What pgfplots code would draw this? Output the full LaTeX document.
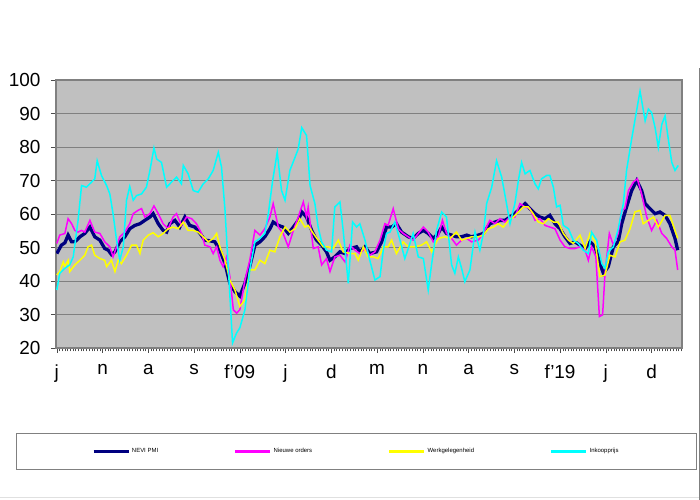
\documentclass[border=0pt]{standalone}
\usepackage{fontspec}
\setmainfont{Liberation Sans}
\usepackage{pgfplots}
\pgfplotsset{compat=1.18}
\definecolor{plotbg}{HTML}{C0C0C0}
\definecolor{gridgray}{HTML}{808080}
\definecolor{nevi}{HTML}{000080}
\definecolor{orders}{HTML}{FF00FF}
\definecolor{werk}{HTML}{FFFF00}
\definecolor{inkoop}{HTML}{00FFFF}
\begin{document}
\begin{tikzpicture}
\useasboundingbox (0,0) rectangle (700bp,500bp);
\draw[gridgray, line width=1bp] (699bp,0) -- (699bp,432bp);
\draw[black!12, line width=1bp] (0,2bp) -- (699bp,2bp);
\begin{axis}[
  at={(56bp,152bp)}, anchor=south west,
  scale only axis, width=626bp, height=268bp,
  xmin=-0.3, xmax=232.3, ymin=20, ymax=100,
  axis background/.style={fill=plotbg},
  axis line style={gridgray, line width=1.5bp},
  ytick={20,30,...,100},
  ymajorgrids, grid style={gridgray, line width=1bp},
  xtick={0,17,...,221},
  xticklabels={j,n,a,s,f'09,j,d,m,n,a,s,f'19,j,d},
  minor xtick={0,1,...,232},
  tick align=outside, tick pos=left,
  major tick length=5bp, minor tick length=3.5bp,
  every tick/.style={black!70, line width=0.5bp},
  tick label style={font=\fontsize{19}{21}\selectfont},
  yticklabel style={xshift=-7bp},
  xticklabel style={yshift=-8bp},
  /pgf/number format/assume math mode=true,
  legend style={at={(axis description cs:0.48,-0.386)}, anchor=center,
    draw=gridgray, fill=white, line width=0.8bp,
    inner xsep=76bp, inner ysep=13bp,
    font=\fontsize{6}{7}\selectfont,
    /tikz/every even column/.append style={column sep=74bp}},
  legend columns=4, legend cell align=left,
  legend image code/.code={\draw[#1, line width=2.5bp] (0bp,0bp) -- (35bp,0bp);},
]
\addplot[nevi, line width=3.3bp] coordinates {
(0,48.2) (1.7,50.7) (3.0,51.4) (4.2,53.7) (5.5,51.7) (6.7,51.7) (8.6,53.2) (10.4,54.2) (12.3,56.1) (14.1,53.2)
(16.0,52.2) (17.8,49.7) (19.1,49.2) (20.3,47.9) (21.6,48.7) (23.4,51.7) (25.3,53.2) (27.1,55.6) (29.0,56.6) (30.9,57.1)
(32.7,58.1) (34.6,59.1) (35.8,60.1) (37.7,57.1) (39.5,55.1) (40.8,54.6) (42.0,57.1) (43.9,58.1) (45.7,56.1) (47.6,59.1)
(49.4,56.6) (51.3,56.1) (53.2,54.2) (55.0,52.2) (56.9,52.0) (58.7,51.7) (60.6,49.2) (62.5,45.2) (64.3,39.3) (66.2,36.8)
(68.0,35.5) (69.9,39.3) (71.7,44.3) (73.6,50.7) (75.5,51.7) (77.3,53.2) (79.2,55.6) (80.4,57.6) (82.3,56.6) (84.1,56.1)
(86.0,54.2) (87.9,56.1) (89.7,58.1) (91.0,60.6) (92.8,59.1) (94.7,55.1) (96.5,52.2) (98.4,50.7) (100.2,48.7) (101.5,46.2)
(103.3,47.2) (105.2,48.7) (107.1,48.2) (108.9,49.7) (111.4,50.2) (112.6,48.7) (114.5,50.2) (116.3,48.2) (118.8,48.7) (120.7,51.7)
(122.5,56.1) (124.4,56.1) (126.2,57.1) (128.1,54.6) (130.6,53.2) (132.4,52.7) (134.3,54.2) (136.2,55.1) (138.0,54.2) (139.9,52.7)
(141.7,54.2) (143.0,56.1) (144.8,54.2) (146.7,53.7) (148.5,53.2) (150.4,53.2) (152.3,53.7) (154.1,53.2) (156.6,53.7) (158.5,54.2)
(160.9,57.1) (162.8,57.6) (164.7,58.1) (166.5,58.1) (168.4,59.1) (170.2,60.1) (172.1,61.6) (174.0,63.1) (175.8,61.6) (177.7,60.1)
(179.5,59.1) (181.4,58.6) (183.2,59.6) (185.1,57.1) (187.0,55.6) (188.8,53.2) (190.7,51.2) (192.5,51.7) (194.4,50.7) (196.3,49.7)
(198.1,51.7) (200.0,50.2) (201.8,45.2) (203.1,42.3) (204.9,44.3) (206.8,50.2) (208.6,51.7) (209.9,57.1) (211.7,62.1) (213.6,67.0)
(215.5,70.0) (217.3,67.0) (218.6,63.1) (220.4,61.6) (222.3,60.1) (224.1,60.6) (226.0,59.6) (227.8,57.1) (229.7,52.7) (230.7,49.2)
};
\addlegendentry{NEVI PMI}
\addplot[orders, line width=1.5bp] coordinates {
(0,51.2) (1.1,53.7) (3.0,54.2) (4.2,58.6) (5.5,57.1) (6.7,55.1) (7.9,54.6) (9.2,55.1) (10.4,54.6) (12.3,58.1)
(14.1,54.6) (16.0,54.2) (17.8,51.7) (19.7,50.2) (20.9,47.2) (22.2,50.2) (23.4,53.2) (25.3,54.6) (27.1,57.1) (28.4,60.1)
(30.2,61.1) (31.5,61.6) (32.7,59.1) (34.6,60.1) (36.1,62.4) (37.7,60.1) (39.5,57.1) (41.4,55.6) (43.2,59.1) (44.5,60.1)
(46.3,56.6) (48.2,59.1) (50.1,58.6) (51.9,57.1) (53.8,54.2) (55.0,50.7) (56.9,50.2) (58.1,48.2) (59.4,50.2) (60.6,46.2)
(61.8,44.3) (63.1,47.2) (64.3,41.3) (65.6,31.4) (66.8,30.4) (68.0,31.4) (69.9,40.3) (71.7,46.2) (73.6,55.1) (75.5,53.7)
(77.3,55.6) (79.2,59.1) (80.4,63.1) (82.3,56.1) (84.1,54.2) (86.0,50.2) (87.9,55.1) (89.7,59.1) (91.6,63.6) (92.8,59.1)
(93.4,62.1) (95.3,49.7) (97.1,50.2) (98.4,44.8) (100.2,46.7) (101.5,42.8) (103.3,47.2) (105.2,47.7) (107.1,45.7) (108.9,50.7)
(110.8,49.2) (112.6,48.2) (114.5,49.7) (116.3,47.7) (118.2,48.7) (120.1,52.2) (121.9,57.1) (123.1,56.6) (125.0,61.6) (126.9,55.6)
(128.7,54.2) (130.6,53.2) (132.4,52.2) (134.3,54.2) (136.2,56.1) (138.0,54.6) (139.9,51.7) (141.7,53.2) (143.3,58.1) (144.8,54.2)
(146.7,52.7) (148.5,50.7) (150.4,52.2) (152.3,52.7) (154.1,51.7) (156.6,52.2) (158.5,54.2) (160.9,58.1) (162.8,57.1) (164.7,58.6)
(166.5,57.6) (168.4,59.1) (170.2,59.1) (172.1,63.1) (174.0,62.1) (175.8,61.6) (177.7,58.1) (179.5,58.6) (181.4,56.6) (183.2,56.1)
(185.1,55.6) (187.0,52.2) (188.8,50.2) (190.7,49.7) (192.5,49.7) (194.4,50.2) (196.3,49.2) (197.5,46.2) (198.7,50.2) (200.3,47.2)
(201.6,29.4) (202.8,29.9) (203.7,42.3) (205.3,54.2) (206.8,50.7) (208.6,54.2) (209.9,61.1) (211.1,61.6) (212.4,67.0) (214.2,69.5)
(215.7,70.5) (217.3,66.0) (219.2,59.1) (221.0,55.1) (222.9,58.1) (224.8,54.2) (226.6,52.7) (228.5,50.2) (229.7,49.2) (230.7,43.3)
};
\addlegendentry{Nieuwe orders}
\addplot[werk, line width=1.5bp] coordinates {
(0,41.8) (1.1,42.8) (2.4,45.7) (3.0,44.3) (4.2,46.2) (4.8,42.8) (6.7,44.8) (8.6,46.2) (10.4,47.7) (11.6,50.2)
(12.9,50.7) (14.1,47.7) (16.0,46.7) (17.8,46.2) (18.5,44.3) (20.3,46.2) (21.6,42.8) (22.8,46.2) (24.0,45.2) (25.9,47.7)
(27.8,50.7) (29.6,50.7) (30.9,48.2) (32.1,52.2) (34.0,53.7) (35.8,54.4) (37.7,53.2) (39.5,54.2) (41.4,55.6) (43.2,56.1)
(45.1,55.6) (47.0,57.6) (48.8,55.1) (50.7,55.1) (52.5,54.6) (54.4,53.2) (56.3,51.7) (58.1,52.7) (59.4,54.2) (60.6,50.2)
(62.5,46.2) (64.3,40.3) (66.2,37.3) (68.0,32.4) (69.9,34.4) (71.7,43.3) (73.6,43.3) (75.5,46.2) (77.3,45.2) (79.2,49.2)
(81.0,48.7) (82.9,53.2) (84.8,56.1) (86.6,54.6) (88.5,55.6) (90.3,58.6) (92.2,56.1) (93.4,56.6) (95.3,54.2) (97.1,52.2)
(99.0,50.2) (100.9,50.2) (102.7,49.7) (104.6,52.2) (106.4,48.7) (108.9,48.2) (110.8,48.2) (112.0,46.2) (113.9,50.2) (115.7,47.2)
(117.6,47.2) (119.4,46.7) (121.3,50.2) (123.1,50.2) (124.4,52.2) (126.2,48.2) (128.7,51.7) (130.6,50.2) (133.1,50.2) (135.5,50.7)
(137.4,51.7) (139.3,48.7) (141.7,52.7) (144.2,53.2) (146.1,52.7) (148.5,54.6) (150.4,52.2) (152.3,52.7) (154.1,53.2) (156.6,53.2)
(158.5,53.7) (160.3,55.6) (162.2,56.1) (164.0,57.1) (165.9,56.1) (167.8,58.1) (169.6,59.1) (171.5,60.6) (173.3,62.1) (175.2,62.1)
(177.0,60.1) (178.9,57.6) (180.8,57.1) (182.6,58.6) (184.5,57.6) (186.3,57.6) (188.2,54.2) (190.1,52.2) (191.9,51.2) (194.4,53.7)
(196.3,49.7) (198.1,54.2) (200.0,51.7) (201.8,41.3) (203.7,41.8) (205.5,47.7) (207.4,47.2) (209.3,51.7) (211.1,52.2) (213.0,55.6)
(214.8,60.6) (216.7,61.1) (217.9,57.1) (219.8,58.1) (221.7,59.1) (223.5,56.1) (226.0,59.6) (227.8,59.6) (229.7,55.1) (230.7,52.7)
};
\addlegendentry{Werkgelegenheid}
\addplot[inkoop, line width=1.5bp] coordinates {
(0,37.3) (1.1,42.3) (3.0,43.8) (4.8,44.8) (6.1,47.2) (7.9,58.1) (9.2,68.5) (11.0,68.0) (12.9,69.5) (14.1,70.5)
(15.0,75.9) (16.6,71.5) (18.5,68.5) (19.7,66.0) (20.9,60.1) (22.2,52.2) (23.4,46.2) (24.7,50.2) (25.9,64.1) (27.1,68.2)
(28.4,64.1) (29.6,65.5) (31.5,66.0) (33.3,68.0) (34.6,73.0) (36.1,79.7) (37.1,76.4) (38.9,75.4) (40.8,68.0) (42.6,69.5)
(44.5,71.0) (46.3,69.0) (47.0,74.5) (48.8,72.0) (50.7,67.0) (52.5,66.5) (54.4,69.0) (56.3,70.5) (58.1,73.0) (60.0,78.4)
(61.2,74.0) (62.5,61.1) (63.7,44.3) (65.3,21.5) (66.8,24.5) (68.0,26.0) (69.9,31.4) (71.7,43.3) (73.6,51.7) (75.5,52.7)
(77.3,54.2) (78.6,60.1) (80.2,70.0) (81.9,78.4) (83.5,67.0) (84.8,64.1) (86.6,73.0) (88.5,76.9) (89.7,79.4) (91.0,85.8)
(92.8,83.4) (94.1,68.5) (95.9,63.1) (97.1,56.1) (98.4,51.7) (100.2,49.2) (102.1,48.7) (103.3,62.1) (105.2,63.6) (106.4,55.1)
(108.3,39.3) (109.9,57.6) (111.4,56.1) (112.6,57.1) (114.5,52.2) (116.3,46.2) (118.2,40.3) (120.1,41.3) (121.3,49.2) (122.5,54.2)
(123.8,54.6) (125.6,57.6) (127.5,52.2) (129.3,46.7) (130.6,49.7) (132.4,54.2) (134.3,47.2) (136.2,46.7) (138.0,37.3) (139.3,45.2)
(141.1,55.1) (143.0,60.6) (144.8,59.1) (146.7,44.8) (147.9,42.3) (149.2,47.2) (150.4,43.8) (151.6,39.8) (153.5,43.3) (155.4,54.6)
(157.2,49.2) (158.5,54.2) (159.7,63.1) (161.6,68.0) (163.4,75.9) (165.3,71.0) (167.1,63.1) (168.4,57.1) (170.2,63.1) (171.5,70.0)
(172.7,75.4) (174.0,72.0) (175.8,73.0) (177.7,69.0) (178.9,67.5) (180.1,70.5) (182.0,71.5) (183.2,71.5) (184.5,68.0) (185.7,62.1)
(187.0,62.6) (188.2,56.6) (190.1,55.6) (191.9,52.2) (193.8,51.2) (195.6,49.2) (197.5,48.2) (198.7,54.6) (200.6,52.2) (202.5,45.2)
(203.7,43.8) (204.9,48.7) (206.8,50.2) (208.6,55.6) (210.5,63.1) (211.7,73.0) (213.6,82.4) (215.2,89.8) (216.7,96.7) (218.6,87.8)
(219.8,91.3) (221.0,90.3) (222.3,85.8) (223.5,79.9) (224.8,86.8) (226.0,89.3) (227.2,82.4) (228.5,75.4) (229.7,73.0) (230.9,74.5)
};
\addlegendentry{Inkoopprijs}
\end{axis}
\end{tikzpicture}
\end{document}
